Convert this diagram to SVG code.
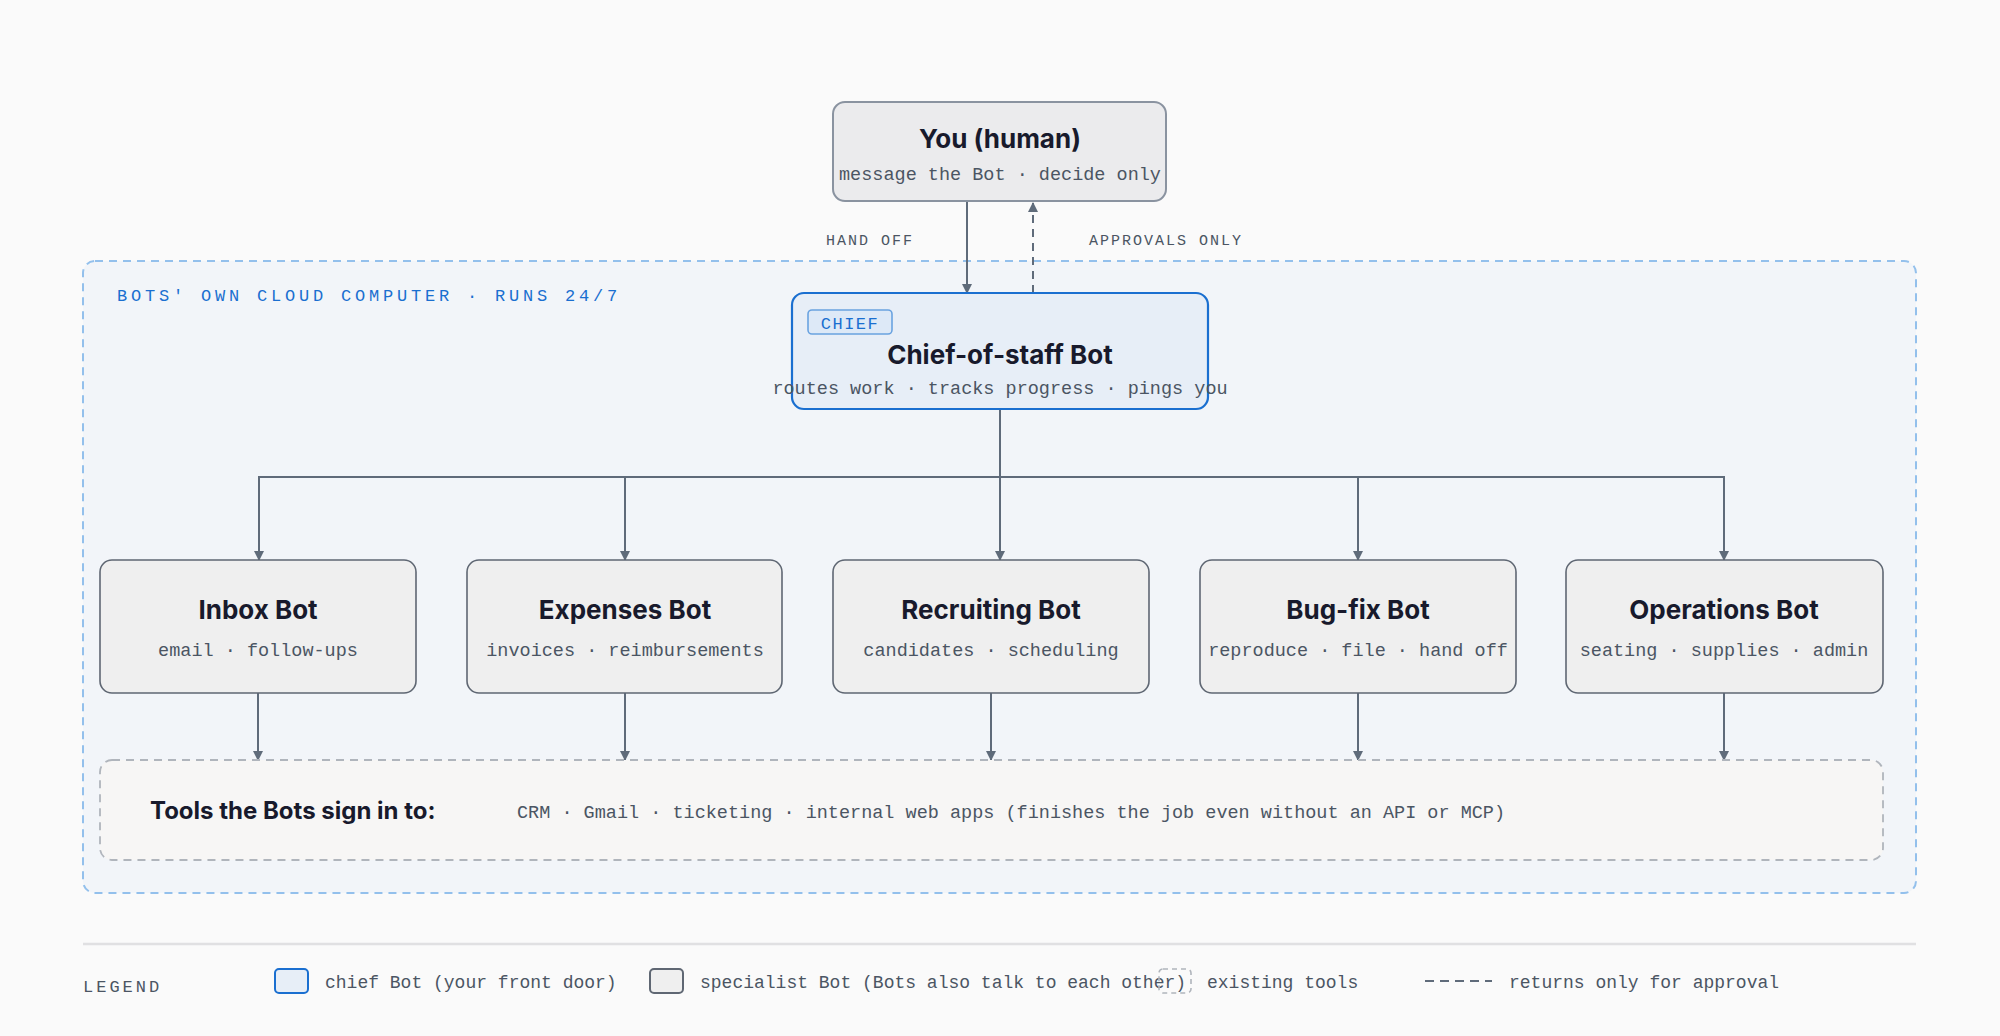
<svg xmlns="http://www.w3.org/2000/svg" width="2000" height="1036" viewBox="0 0 2000 1036">
<defs>
<marker id="ah" viewBox="0 0 10 10" refX="9" refY="5" markerWidth="10" markerHeight="10" markerUnits="userSpaceOnUse" orient="auto"><path d="M0,0 L10,5 L0,10 z" fill="#5f6b7a"/></marker>
<style>
.t{font-family:Inter,"Liberation Sans",sans-serif;font-weight:700;font-size:26px;fill:#181a2c;text-anchor:middle}
.s{font-family:"Liberation Mono","DejaVu Sans Mono",monospace;font-size:18.5px;fill:#4b5563;text-anchor:middle}
.bot{fill:#efefef;stroke:#5f6773;stroke-width:1.6}
.c{fill:none;stroke:#5f6b7a;stroke-width:2}
.lab{font-family:"Liberation Mono",monospace;font-size:15px;letter-spacing:2px;fill:#4b5563;text-anchor:middle}
.lg{font-family:"Liberation Mono",monospace;font-size:18px;fill:#4b5563}
</style>
</defs>
<rect width="2000" height="1036" fill="#fafafa"/>
<g id="cloud">
<rect x="83" y="261" width="1833" height="632" rx="12" fill="#f2f5f9" stroke="#93c0ec" stroke-width="2" stroke-dasharray="8 6"/>
<text x="117" y="301" font-family="Liberation Mono,monospace" font-size="17" letter-spacing="3.8" fill="#1a6fd0">BOTS' OWN CLOUD COMPUTER · RUNS 24/7</text>
</g>
<g id="connectors">
<line class="c" x1="967" y1="201" x2="967" y2="293" marker-end="url(#ah)"/>
<line class="c" x1="1033" y1="293" x2="1033" y2="203" stroke-dasharray="8 6" marker-end="url(#ah)"/>
<text class="lab" x="870" y="245">HAND OFF</text>
<text class="lab" x="1166" y="245">APPROVALS ONLY</text>
<polyline class="c" points="1000,409 1000,477"/>
<polyline class="c" points="259,560 259,477 1724,477 1724,560" marker-end="url(#ah)"/>
<line class="c" x1="259" y1="477" x2="259" y2="560" marker-end="url(#ah)"/>
<line class="c" x1="625" y1="477" x2="625" y2="560" marker-end="url(#ah)"/>
<line class="c" x1="1000" y1="477" x2="1000" y2="560" marker-end="url(#ah)"/>
<line class="c" x1="1358" y1="477" x2="1358" y2="560" marker-end="url(#ah)"/>
<line class="c" x1="258" y1="693" x2="258" y2="760" marker-end="url(#ah)"/>
<line class="c" x1="625" y1="693" x2="625" y2="760" marker-end="url(#ah)"/>
<line class="c" x1="991" y1="693" x2="991" y2="760" marker-end="url(#ah)"/>
<line class="c" x1="1358" y1="693" x2="1358" y2="760" marker-end="url(#ah)"/>
<line class="c" x1="1724" y1="693" x2="1724" y2="760" marker-end="url(#ah)"/>
</g>
<g id="you">
<rect x="833" y="102" width="333" height="99" rx="12" fill="#ebebed" stroke="#8a93a0" stroke-width="2"/>
<text class="t" x="1000" y="148">You (human)</text>
<text class="s" x="1000" y="180">message the Bot · decide only</text>
</g>
<g id="chief">
<rect x="792" y="293" width="416" height="116" rx="12" fill="#e7eef7" stroke="#1a6fd0" stroke-width="2.2"/>
<rect x="808" y="310" width="84" height="24" rx="4" fill="#dde9f7" stroke="#6aa3e0" stroke-width="1.6"/>
<text x="850" y="329" text-anchor="middle" font-family="Liberation Mono,monospace" font-size="17" letter-spacing="1.5" fill="#1a6fd0">CHIEF</text>
<text class="t" x="1000" y="364">Chief-of-staff Bot</text>
<text class="s" x="1000" y="394">routes work · tracks progress · pings you</text>
</g>
<g id="inbox"><rect class="bot" x="100" y="560" width="316" height="133" rx="12"/><text class="t" x="258" y="619">Inbox Bot</text><text class="s" x="258" y="656">email · follow-ups</text></g>
<g id="expenses"><rect class="bot" x="467" y="560" width="315" height="133" rx="12"/><text class="t" x="625" y="619">Expenses Bot</text><text class="s" x="625" y="656">invoices · reimbursements</text></g>
<g id="recruiting"><rect class="bot" x="833" y="560" width="316" height="133" rx="12"/><text class="t" x="991" y="619">Recruiting Bot</text><text class="s" x="991" y="656">candidates · scheduling</text></g>
<g id="bugfix"><rect class="bot" x="1200" y="560" width="316" height="133" rx="12"/><text class="t" x="1358" y="619">Bug-fix Bot</text><text class="s" x="1358" y="656">reproduce · file · hand off</text></g>
<g id="operations"><rect class="bot" x="1566" y="560" width="317" height="133" rx="12"/><text class="t" x="1724" y="619">Operations Bot</text><text class="s" x="1724" y="656">seating · supplies · admin</text></g>
<g id="tools">
<rect x="100" y="760" width="1783" height="100" rx="12" fill="#f7f6f5" stroke="#b0b5bc" stroke-width="1.8" stroke-dasharray="8 6"/>
<text class="t" x="150" y="819" text-anchor="start" style="text-anchor:start;font-size:24px">Tools the Bots sign in to:</text>
<text class="s" x="517" y="818" style="text-anchor:start">CRM · Gmail · ticketing · internal web apps (finishes the job even without an API or MCP)</text>
</g>
<g id="legend">
<line x1="83" y1="944" x2="1916" y2="944" stroke="#e0e0e2" stroke-width="2.5"/>
<text x="83" y="992" font-family="Liberation Mono,monospace" font-size="17" letter-spacing="3" fill="#4b5563">LEGEND</text>
<rect x="275" y="969" width="33" height="24" rx="4" fill="#e7eef7" stroke="#1a6fd0" stroke-width="2"/>
<text class="lg" x="325" y="988">chief Bot (your front door)</text>
<rect x="650" y="969" width="33" height="24" rx="4" fill="#efefef" stroke="#5f6773" stroke-width="2"/>
<text class="lg" x="700" y="988">specialist Bot (Bots also talk to each other)</text>
<rect x="1159" y="969" width="32" height="24" rx="4" fill="none" stroke="#b0b5bc" stroke-width="1.6" stroke-dasharray="5 4"/>
<text class="lg" x="1207" y="988">existing tools</text>
<line x1="1425" y1="981" x2="1492" y2="981" stroke="#5f6b7a" stroke-width="2" stroke-dasharray="9 6"/>
<text class="lg" x="1509" y="988">returns only for approval</text>
</g>
</svg>
